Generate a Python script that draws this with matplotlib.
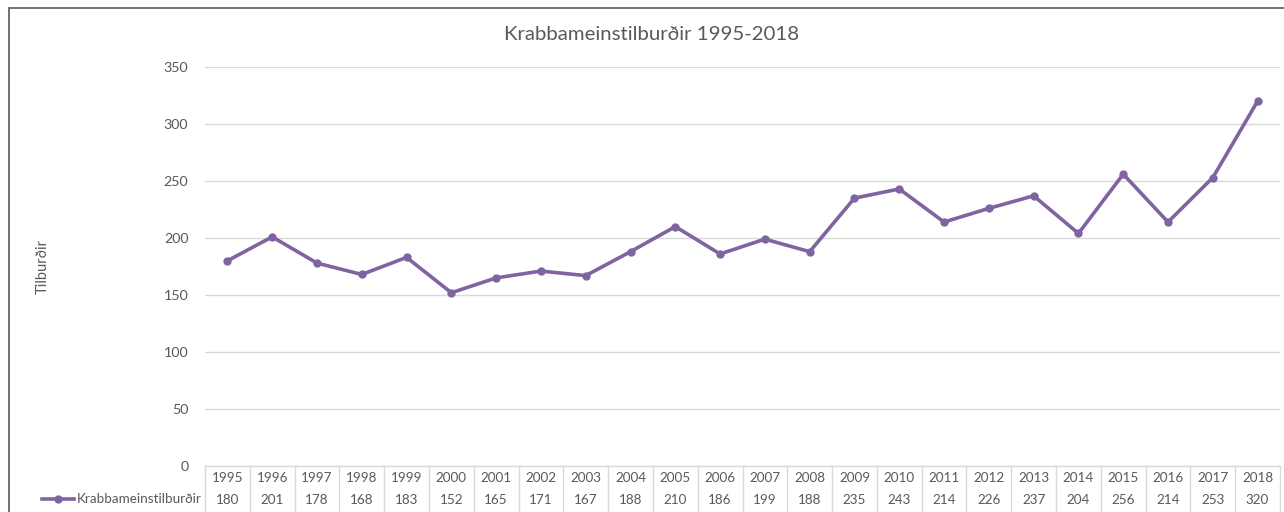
import matplotlib.pyplot as plt
from matplotlib.patches import Rectangle
from matplotlib.lines import Line2D
import matplotlib.transforms as mtransforms

# Data
years = [str(y) for y in range(1995, 2019)]
values = [180, 201, 178, 168, 183, 152, 165, 171, 167, 188, 210, 186,
          199, 188, 235, 243, 214, 226, 237, 204, 256, 214, 253, 320]
series_name = "Krabbameinstilburðir"
title = "Krabbameinstilburðir 1995-2018"
ylabel = "Tilburðir"
yticks = [0, 50, 100, 150, 200, 250, 300, 350]

purple = "#8064A2"
text_col = "#595959"
grid_col = "#D9D9D9"
plt.rcParams['font.family'] = ['Lato', 'DejaVu Sans']

W, H = 1284, 512
fig = plt.figure(figsize=(W / 100, H / 100), dpi=100)

# outer chart border (cropped on right and bottom)
fig.add_artist(Rectangle((9 / W, -0.1), 1.2, 1 - 8 / H + 0.1, transform=fig.transFigure,
                         fill=False, edgecolor="#595959", linewidth=1.2))

left, right, top, bottom = 205, 1280, 67, 466
ax = fig.add_axes([left / W, 1 - bottom / H, (right - left) / W, (bottom - top) / H])

x = list(range(len(years)))
ax.plot(x, values, color=purple, linewidth=2.6, marker="o", markersize=5,
        solid_joinstyle="round", zorder=3)

ax.set_xlim(-0.5, len(years) - 0.5)
ax.set_ylim(0, 350)
ax.set_yticks(yticks)
ax.set_yticklabels([str(t) for t in yticks], fontsize=10.3, color=text_col)
ax.tick_params(axis="y", length=0, pad=12)
ax.set_xticks([])
for s in ax.spines.values():
    s.set_visible(False)
ax.grid(axis="y", color=grid_col, linewidth=1)
ax.set_axisbelow(True)

fig.text(652 / W, 1 - 35 / H, title, ha="center", va="center", fontsize=14.7, color=text_col)
fig.text(43 / W, 1 - 267 / H, ylabel, ha="center", va="center", rotation=90,
         fontsize=10.5, color=text_col)

# data table below the axes
row_h = 23 / (bottom - top)
trans = mtransforms.blended_transform_factory(ax.transData, ax.transAxes)
n = len(years)
line_kw = dict(color=grid_col, linewidth=1, clip_on=False)
ax.add_line(Line2D([-0.5, n - 0.5], [0, 0], transform=trans, **line_kw))
for i in range(n + 1):
    ax.add_line(Line2D([i - 0.5, i - 0.5], [0, -2.2 * row_h], transform=trans, **line_kw))
# row separator extends left under legend cell
ax.add_line(Line2D([38 / W, right / W], [1 - 488 / H] * 2, transform=fig.transFigure,
                   color=grid_col, linewidth=1))
ax.add_line(Line2D([38 / W, 38 / W], [1 - 488 / H, -0.1], transform=fig.transFigure,
                   color=grid_col, linewidth=1))
for i in range(n):
    ax.text(i, -0.5 * row_h, years[i], transform=trans, ha="center", va="center",
            fontsize=9.7, color=text_col)
    ax.text(i, -1.5 * row_h, str(values[i]), transform=trans, ha="center", va="center",
            fontsize=9.7, color=text_col)

# legend key in table
ky = 1 - 499 / H
fig.add_artist(Line2D([42 / W, 74 / W], [ky, ky], transform=fig.transFigure,
                      color=purple, linewidth=2.6))
fig.add_artist(Line2D([58 / W], [ky], transform=fig.transFigure, color=purple,
                      marker="o", markersize=5))
fig.text(77 / W, ky, series_name, ha="left", va="center", fontsize=9.7, color=text_col)

fig.savefig("out.png", dpi=100)
